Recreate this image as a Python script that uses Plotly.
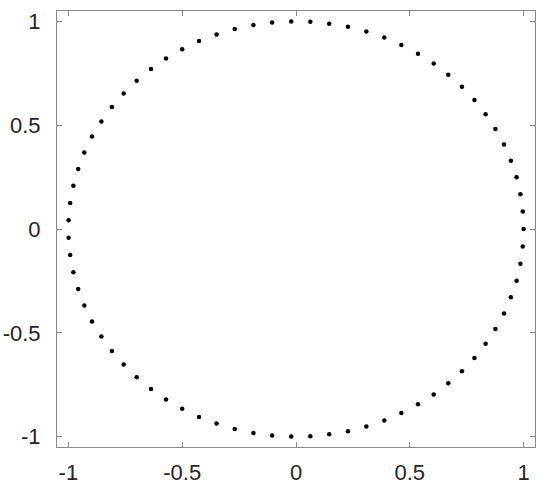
"""Punkty rozłożone na okręgu jednostkowym."""

import plotly.graph_objects as go

# współrzędne punktów (75 punktów)
X_VALS = [
    1.000, 0.996, 0.986, 0.969, 0.944, 0.914, 0.876, 0.833, 0.784, 0.729,
    0.669, 0.605, 0.536, 0.463, 0.388, 0.309, 0.228, 0.146, 0.063, -0.021,
    -0.105, -0.187, -0.269, -0.349, -0.426, -0.500, -0.571, -0.637, -0.700, -0.757,
    -0.809, -0.855, -0.896, -0.930, -0.957, -0.978, -0.992, -0.999,
    -0.999, -0.992, -0.978, -0.957, -0.930, -0.896, -0.855, -0.809, -0.757, -0.700,
    -0.637, -0.571, -0.500, -0.426, -0.349, -0.269, -0.187, -0.105, -0.021, 0.063,
    0.146, 0.228, 0.309, 0.388, 0.463, 0.536, 0.605, 0.669, 0.729, 0.784,
    0.833, 0.876, 0.914, 0.944, 0.969, 0.986, 0.996,
]
Y_VALS = [
    0.000, 0.084, 0.167, 0.249, 0.329, 0.407, 0.482, 0.553, 0.621, 0.685,
    0.743, 0.797, 0.844, 0.886, 0.922, 0.951, 0.974, 0.989, 0.998, 1.000,
    0.995, 0.982, 0.963, 0.937, 0.905, 0.866, 0.821, 0.771, 0.714, 0.653,
    0.588, 0.518, 0.445, 0.368, 0.289, 0.208, 0.125, 0.042,
    -0.042, -0.125, -0.208, -0.289, -0.368, -0.445, -0.518, -0.588, -0.653, -0.714,
    -0.771, -0.821, -0.866, -0.905, -0.937, -0.963, -0.982, -0.995, -1.000, -0.998,
    -0.989, -0.974, -0.951, -0.922, -0.886, -0.844, -0.797, -0.743, -0.685, -0.621,
    -0.553, -0.482, -0.407, -0.329, -0.249, -0.167, -0.084,
]
TICK_VALS = [-1, -0.5, 0, 0.5, 1]
TICK_TEXT = ["-1", "-0.5", "0", "0.5", "1"]

AXIS_COLOR = "#8c8c8c"
TEXT_COLOR = "#262626"

fig = go.Figure(
    go.Scatter(
        x=X_VALS,
        y=Y_VALS,
        mode="markers",
        marker=dict(color="black", size=4.5),
        hoverinfo="skip",
    )
)

axis_style = dict(
    range=[-1.05, 1.05],
    tickvals=TICK_VALS,
    ticktext=TICK_TEXT,
    ticks="inside",
    ticklen=5,
    tickcolor=AXIS_COLOR,
    showline=True,
    linecolor=AXIS_COLOR,
    linewidth=1,
    mirror="ticks",
    showgrid=False,
    zeroline=False,
    automargin=False,
    tickfont=dict(size=22, color=TEXT_COLOR),
)

fig.update_xaxes(**axis_style, ticklabelstandoff=6)
fig.update_yaxes(**axis_style, ticklabelstandoff=11)
fig.update_layout(
    width=550,
    height=491,
    margin=dict(l=57, r=15, t=11, b=44, autoexpand=False),
    paper_bgcolor="white",
    plot_bgcolor="white",
    font=dict(family="Arial, Liberation Sans, sans-serif"),
    showlegend=False,
)

# bez domyślnego marginesu strony, żeby wykres zaczynał się w rogu okna
fig.write_html(
    "out.html",
    config={"displayModeBar": False},
    post_script="document.body.style.margin = '0';",
)
